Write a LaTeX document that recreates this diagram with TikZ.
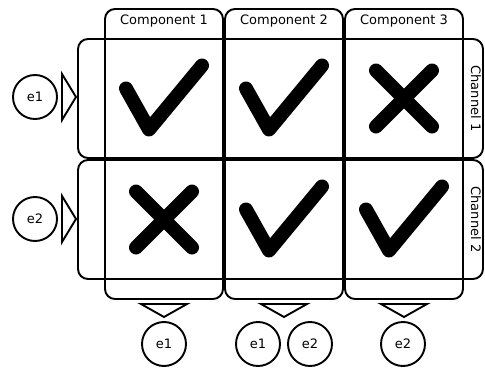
\documentclass[tikz,border=0pt]{standalone}
\usepackage{fontspec}
\setmainfont{DejaVu Sans}
\begin{document}
\begin{tikzpicture}[x=1pt,y=-1pt,line width=1.9pt,
  box/.style={draw,rounded corners=10pt,inner sep=0pt},
  lbl/.style={font=\fontsize{13}{15}\selectfont,inner sep=0pt},
  evt/.style={draw,circle,minimum size=44pt,inner sep=0pt,font=\fontsize{13}{15}\selectfont},
  markline/.style={line width=14pt,line cap=round,line join=round},
  tickmark/.pic={\draw[markline] (-38,-10) -- (-15,31) -- (38,-33);},
  crossmark/.pic={\draw[markline] (-28,-28) -- (28,28) (-28,28) -- (28,-28);},
  tri/.style={line join=miter}
]
\useasboundingbox (0,0) rectangle (485,372);

% component columns
\node[box,minimum width=118pt,minimum height=290pt] (c1) at (164,154) {};
\node[box,minimum width=118pt,minimum height=290pt] (c2) at (284,154) {};
\node[box,minimum width=118pt,minimum height=290pt] (c3) at (404,154) {};
\node[lbl] (h1) at (164,21) {Component 1};
\node[lbl] (h2) at (284,21) {Component 2};
\node[lbl] (h3) at (404,21) {Component 3};

% channel rows
\node[box,minimum width=405pt,minimum height=119pt] (r1) at (280.5,98.5) {};
\node[box,minimum width=405pt,minimum height=119pt] (r2) at (280.5,219.5) {};
\node[lbl,rotate=-90] (l1) at (476,98.5) {Channel 1};
\node[lbl,rotate=-90] (l2) at (476,219.5) {Channel 2};

% cell marks
\pic at (164,98.5) {tickmark};
\pic at (284,98.5) {tickmark};
\pic at (404,98.5) {crossmark};
\pic at (164,219.5) {crossmark};
\pic at (284,219.5) {tickmark};
\pic at (404,219.5) {tickmark};

% events feeding the channels
\node[evt] (ce1) at (35,97) {e1};
\node[evt] (ce2) at (35,219) {e2};
\coordinate (ta) at (62,97);
\coordinate (tb) at (62,219);
\draw[tri] ([yshift=23pt]ta) -- ([yshift=-23pt]ta) -- ([xshift=14pt]ta) -- cycle;
\draw[tri] ([yshift=23pt]tb) -- ([yshift=-23pt]tb) -- ([xshift=14pt]tb) -- cycle;

% events emitted by the components
\coordinate (ba) at (164,304);
\coordinate (bb) at (284,304);
\coordinate (bc) at (404,304);
\draw[tri] ([xshift=-23pt]ba) -- ([xshift=23pt]ba) -- ([yshift=-13pt]ba) -- cycle;
\draw[tri] ([xshift=-23pt]bb) -- ([xshift=23pt]bb) -- ([yshift=-13pt]bb) -- cycle;
\draw[tri] ([xshift=-23pt]bc) -- ([xshift=23pt]bc) -- ([yshift=-13pt]bc) -- cycle;
\node[evt] (de1) at (164,344) {e1};
\node[evt] (de2) at (258,344) {e1};
\node[evt] (de3) at (310,344) {e2};
\node[evt] (de4) at (403,344) {e2};
\end{tikzpicture}
\end{document}
